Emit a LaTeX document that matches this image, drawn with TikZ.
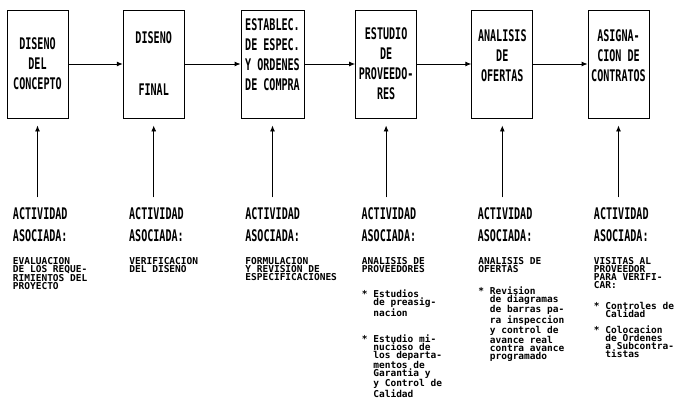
\documentclass[tikz,border=0pt]{standalone}
\usepackage{fontspec}
\usetikzlibrary{arrows.meta}
\newfontfamily\tallfont[FakeStretch=0.63]{DejaVu Sans Mono}
\newfontfamily\notefont{DejaVu Sans Mono}
\newcommand{\hang}{\phantom{*\ }}

\begin{document}
\begin{tikzpicture}[x=1pt, y=-1pt, line width=0.9pt,
    etapa/.style={draw, shape=rectangle, minimum width=61pt, minimum height=108pt, inner sep=0pt, align=center,
        font=\tallfont\bfseries\fontsize{16}{20}\selectfont},
    actividad/.style={anchor=base west, inner sep=0pt, font=\tallfont\bfseries\fontsize{16}{20}\selectfont},
    detalle/.style={anchor=north west, inner sep=0pt, align=left, font=\notefont\bfseries\fontsize{9.5}{8}\selectfont},
    flecha/.style={-{Latex[length=6pt,width=5pt]}}]
    \useasboundingbox (0,0) rectangle (676,409);
    % etapas
    \draw (37.5,64) node[etapa] (b1) {DISENO\\DEL\\CONCEPTO};
    \draw (153.7,64) node[etapa] (b2) {DISENO\\[32pt]FINAL};
    \draw (272.5,64) node[etapa, minimum width=63pt] (b3) {ESTABLEC.\\DE ESPEC.\\Y ORDENES\\DE COMPRA\\[-2pt]\mbox{}};
    \draw (386.1,64) node[etapa] (b4) {ESTUDIO\\DE\\PROVEEDO-\\RES};
    \draw (502.3,64) node[etapa] (b5) {ANALISIS\\DE\\OFERTAS\\[-4pt]\mbox{}};
    \draw (618.5,64) node[etapa] (b6) {ASIGNA-\\CION DE\\CONTRATOS\\[-4pt]\mbox{}};
    \draw [flecha] (b1) -- (b2);
    \draw [flecha] (b2) -- (b3);
    \draw [flecha] (b3) -- (b4);
    \draw [flecha] (b4) -- (b5);
    \draw [flecha] (b5) -- (b6);
    % actividades asociadas
    \foreach \i/\x in {1/37.5, 2/153.7, 3/269.9, 4/386.1, 5/502.3, 6/618.5} {
        \coordinate (s\i) at ([yshift=-79pt]b\i.south);
        \draw [flecha] (s\i) -- ([yshift=-7pt]b\i.south);
        \draw (\x-25,219) node[actividad] (a\i) {ACTIVIDAD};
        \draw (\x-25,241) node[actividad] (o\i) {ASOCIADA:};
    }
    \draw (12.5,257) node[detalle] (d1) {EVALUACION\\DE LOS REQUE-\\RIMIENTOS DEL\\PROYECTO};
    \draw (129,257) node[detalle] (d2) {VERIFICACION\\DEL DISENO};
    \draw (245,257) node[detalle] (d3) {FORMULACION\\Y REVISION DE\\ESPECIFICACIONES};
    \draw (361.5,257) node[detalle] (d4) {ANALISIS DE\\PROVEEDORES\\[17pt]
        * Estudios\\\hang de preasig-\\\hang nacion\\[18pt]
        * Estudio mi-\\\hang nucioso de\\\hang los departa-\\\hang mentos de\\\hang Garantia y\\\hang y Control de\\\hang Calidad};
    \draw (478,257) node[detalle] (d5) {ANALISIS DE\\OFERTAS\\[14pt]
        * Revision\\\hang de diagramas\\\hang de barras pa-\\\hang ra inspeccion\\\hang y control de\\\hang avance real\\\hang contra avance\\\hang programado};
    \draw (593.5,257) node[detalle] (d6) {VISITAS AL\\PROVEEDOR\\PARA VERIFI-\\CAR:\\[13pt]
        * Controles de\\\hang Calidad\\[8pt]
        * Colocacion\\\hang de Ordenes\\\hang a Subcontra-\\\hang tistas};
\end{tikzpicture}
\end{document}
